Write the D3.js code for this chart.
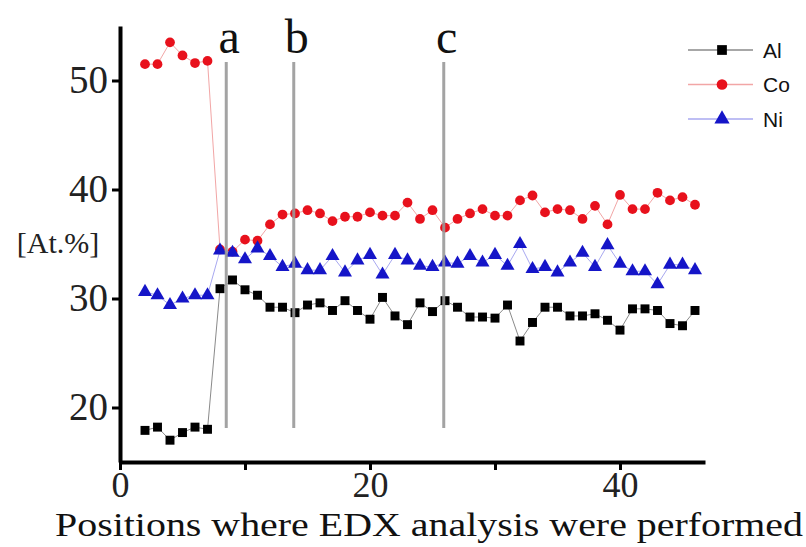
<!DOCTYPE html>
<html>
<head>
<meta charset="utf-8">
<script src="https://cdn.jsdelivr.net/npm/d3@7"></script>
<style>
  body { margin: 0; background: #fff; }
  svg { display: block; }
  .axis path, .axis line { stroke: #000; }
  .serif, .axis text { font-family: 'Liberation Serif', 'Times New Roman', Times, serif; }
  .axis text { fill: #222; }
  .sans { font-family: 'Liberation Sans', Arial, Helvetica, sans-serif; }
</style>
</head>
<body>
<div id="chart"></div>
<script>
// positions along the sample (x) and atomic % per element
const positions = d3.range(2, 47);
const al = [17.9, 18.2, 17.0, 17.7, 18.2, 18.0, 30.9, 31.7, 30.8, 30.3, 29.2, 29.2, 28.7, 29.4, 29.6,
            28.9, 29.8, 28.9, 28.1, 30.1, 28.4, 27.6, 29.6, 28.8, 29.8, 29.2, 28.3, 28.3, 28.2, 29.4,
            26.1, 27.8, 29.2, 29.2, 28.4, 28.4, 28.6, 28.0, 27.1, 29.05, 29.05, 28.9, 27.7, 27.5, 28.9];
const co = [51.5, 51.5, 53.5, 52.3, 51.6, 51.8, 34.5, 34.3, 35.4, 35.3, 36.8, 37.7, 37.8, 38.1, 37.8,
            37.1, 37.5, 37.5, 37.9, 37.6, 37.6, 38.8, 37.3, 38.1, 36.5, 37.3, 37.8, 38.2, 37.6, 37.6,
            39.0, 39.45, 37.9, 38.2, 38.1, 37.3, 38.5, 36.8, 39.5, 38.2, 38.2, 39.7, 39.0, 39.3, 38.6];
const ni = [30.6, 30.3, 29.4, 30.0, 30.3, 30.3, 34.4, 34.2, 33.6, 34.6, 33.9, 32.9, 33.2, 32.6, 32.6,
            33.9, 32.4, 33.5, 34.0, 32.2, 34.0, 33.5, 33.0, 32.9, 33.3, 33.2, 33.9, 33.3, 34.0, 33.0,
            35.0, 32.7, 32.9, 32.4, 33.3, 34.2, 32.9, 34.9, 33.2, 32.5, 32.5, 31.3, 33.1, 33.1, 32.6];

// marker lines a, b, c
const markerNames = ["a", "b", "c"];
const markerPos = [8.5, 13.9, 25.9];

const xTicks = [0, 10, 20, 30, 40];
const yTicks = [20, 30, 40, 50];

const width = 806, height = 547;

const svg = d3.select("#chart").append("svg")
    .attr("width", width)
    .attr("height", height);

let x = d3.scaleLinear().domain([0, 46.8]).range([120, 705]);
let y = d3.scaleLinear().domain([15, 55]).range([462, 26]);

const series = [
    { name: "Al", values: al, line: "#8a8a8a", fill: "#000", shape: d3.symbolSquare, size: 80 },
    { name: "Co", values: co, line: "#f2a6a6", fill: "#e8111c", shape: d3.symbolCircle, size: 75 },
    { name: "Ni", values: ni, line: "#a8a8f0", fill: "#1515c8", shape: d3.symbolTriangle, size: 85 }
];

let line = d3.line()
    .x(d => x(d[0]))
    .y(d => y(d[1]));

for (let s of series) {
    let pts = positions.map((p, i) => [p, s.values[i]]);
    let g = svg.append("g");
    g.append("path")
        .datum(pts)
        .attr("fill", "none")
        .attr("stroke", s.line)
        .attr("stroke-width", 1)
        .attr("d", line);
    g.selectAll("path.pt")
        .data(pts)
        .join("path")
        .attr("class", "pt")
        .attr("transform", d => `translate(${x(d[0])},${y(d[1])})`)
        .attr("d", d3.symbol(s.shape, s.size))
        .attr("fill", s.fill);
}

// vertical grey lines with letters
markerPos.forEach((p, i) => {
    svg.append("line")
        .attr("x1", x(p)).attr("x2", x(p))
        .attr("y1", 62).attr("y2", 428)
        .attr("stroke", "#999")
        .attr("stroke-opacity", 0.9)
        .attr("stroke-width", 3);
    svg.append("text")
        .attr("class", "serif")
        .attr("x", x(p) + 3)
        .attr("y", 53)
        .attr("text-anchor", "middle")
        .attr("font-size", 48)
        .attr("fill", "#111")
        .text(markerNames[i]);
});

// axes
svg.append("g")
    .attr("class", "axis")
    .attr("transform", `translate(0,${y(15)})`)
    .call(d3.axisBottom(x)
        .tickValues(xTicks)
        .tickSize(8)
        .tickSizeOuter(0)
        .tickPadding(1)
        .tickFormat(d => d % 20 === 0 ? d : ""))
    .call(g => g.select(".domain").attr("stroke-width", 4))
    .call(g => g.selectAll(".tick line").attr("stroke-width", 3))
    .call(g => g.selectAll("text").attr("font-size", 36).attr("font-family", null));

svg.append("g")
    .attr("class", "axis")
    .attr("transform", `translate(${x(0)},0)`)
    .call(d3.axisLeft(y)
        .tickValues(yTicks)
        .tickSize(8)
        .tickSizeOuter(0)
        .tickPadding(4))
    .call(g => g.select(".domain").attr("stroke-width", 4))
    .call(g => g.selectAll(".tick line").attr("stroke-width", 3))
    .call(g => g.selectAll("text").attr("font-size", 39).attr("font-family", null));

svg.append("text")
    .attr("class", "serif")
    .attr("x", 58)
    .attr("y", 253)
    .attr("text-anchor", "middle")
    .attr("font-size", 30)
    .attr("fill", "#222")
    .text("[At.%]");

svg.append("text")
    .attr("class", "serif")
    .attr("x", 55)
    .attr("y", 536)
    .attr("font-size", 33)
    .attr("textLength", 748)
    .attr("lengthAdjust", "spacingAndGlyphs")
    .attr("fill", "#111")
    .text("Positions where EDX analysis were performed");

// legend
const legend = svg.append("g").attr("transform", "translate(688,50)");
series.forEach((s, i) => {
    let row = legend.append("g").attr("transform", `translate(0,${i * 34.5})`);
    row.append("line")
        .attr("x1", 0).attr("x2", 65)
        .attr("stroke", s.line)
        .attr("stroke-width", 1.5);
    row.append("path")
        .attr("transform", "translate(34,0)")
        .attr("d", d3.symbol(s.shape, s.size + 15))
        .attr("fill", s.fill);
    row.append("text")
        .attr("class", "sans")
        .attr("x", 75)
        .attr("y", 7.5)
        .attr("font-size", 21)
        .attr("fill", "#111")
        .text(s.name);
});
</script>
</body>
</html>
